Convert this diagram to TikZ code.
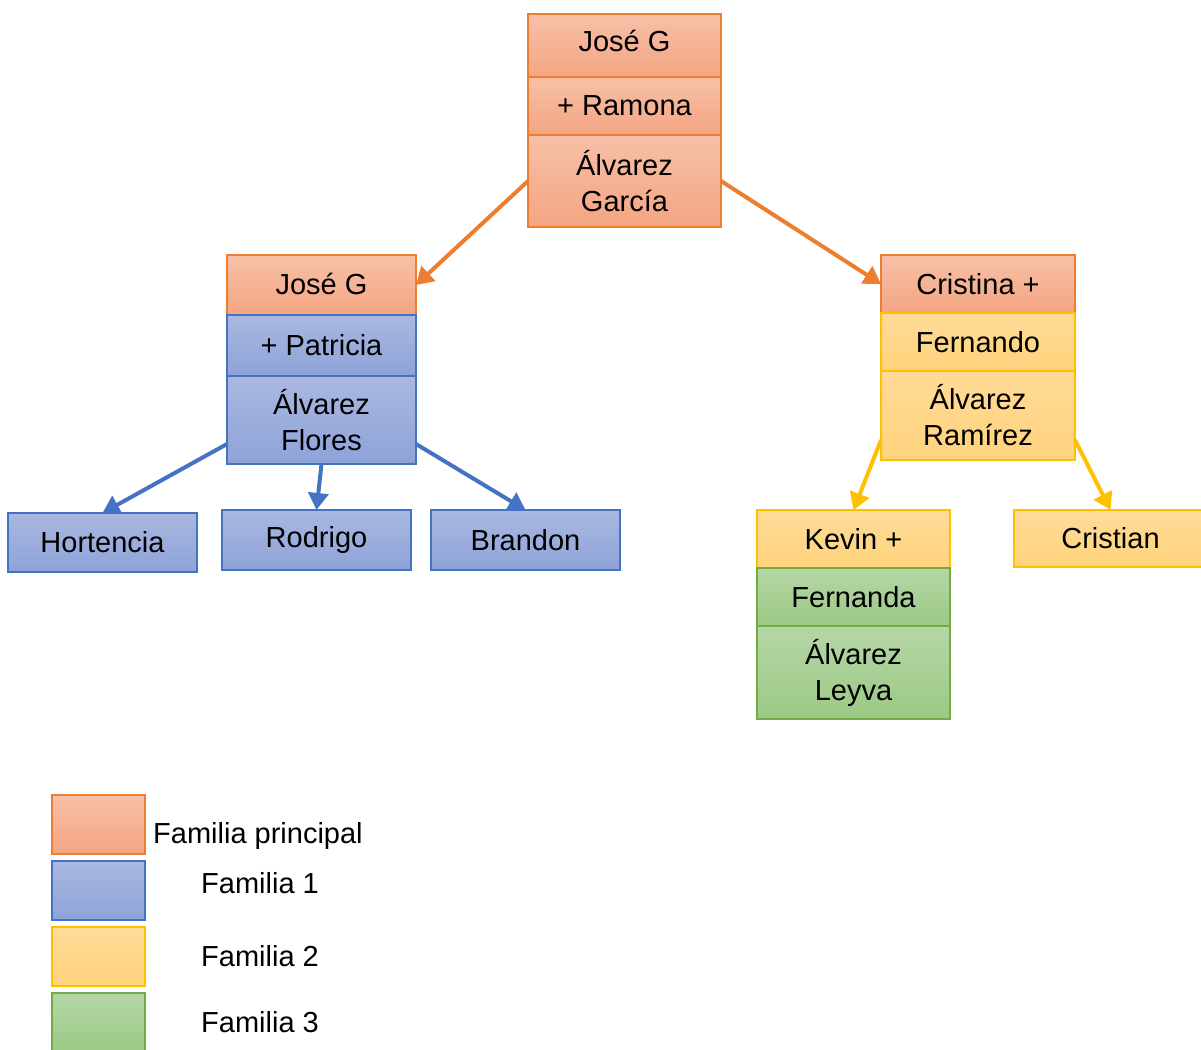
\documentclass[tikz,border=0pt]{standalone}
\usepackage{fontspec}
\setmainfont{Liberation Sans}
\usetikzlibrary{arrows.meta,positioning}
\definecolor{princline}{HTML}{ED7D31}
\definecolor{princtop}{HTML}{F7C0A7}
\definecolor{princbot}{HTML}{F4A582}
\definecolor{unoline}{HTML}{4472C4}
\definecolor{unotop}{HTML}{AAB8E1}
\definecolor{unobot}{HTML}{8DA3D8}
\definecolor{dosline}{HTML}{FFC000}
\definecolor{dostop}{HTML}{FFDB98}
\definecolor{dosbot}{HTML}{FFD37C}
\definecolor{tresline}{HTML}{70AD47}
\definecolor{trestop}{HTML}{B5D6A6}
\definecolor{tresbot}{HTML}{9CC985}

\begin{document}
\begin{tikzpicture}[x=1pt, y=-1pt,
    fam/.style={draw, line width=1.2pt, inner sep=0pt, outer sep=0pt, minimum width=193pt,
        align=center, font=\fontsize{29}{36}\selectfont},
    princ/.style={fam, draw=princline, top color=princtop, bottom color=princbot},
    uno/.style={fam, draw=unoline, top color=unotop, bottom color=unobot},
    dos/.style={fam, draw=dosline, top color=dostop, bottom color=dosbot},
    tres/.style={fam, draw=tresline, top color=trestop, bottom color=tresbot},
    link/.style={line width=4pt, arrows={-Triangle[length=17pt,width=20pt]}},
    legtext/.style={inner sep=0pt, anchor=base west, font=\fontsize{29}{36}\selectfont}]
    \useasboundingbox (0,0) rectangle (1201,1049);
    % familia principal
    \node[princ, anchor=north, minimum height=63pt, text depth=9pt] (tjose) at (624.5,14) {José G};
    \node[princ, below=0pt of tjose, minimum height=58pt] (ramona) {+ Ramona};
    \node[princ, below=0pt of ramona, minimum height=92pt] (garcia) {Álvarez\\García};
    % familia 1
    \node[princ, anchor=north, minimum width=189pt, minimum height=60pt, text depth=3pt] (ljose) at (321.5,255) {José G};
    \node[uno, below=0pt of ljose, minimum width=189pt, minimum height=61pt] (patricia) {+ Patricia};
    \node[uno, below=0pt of patricia, minimum width=189pt, minimum height=88pt] (flores) {Álvarez\\Flores};
    \node[uno, anchor=north, minimum width=189pt, minimum height=59pt] (hortencia) at (102.5,513) {Hortencia};
    \node[uno, anchor=north, minimum width=189pt, minimum height=60pt] (rodrigo) at (316.5,510) {Rodrigo};
    \node[uno, anchor=north, minimum width=189pt, minimum height=60pt] (brandon) at (525.5,510) {Brandon};
    % familia 2
    \node[princ, anchor=north, minimum width=194pt, minimum height=58pt] (cristina) at (978,255) {Cristina +};
    \node[dos, below=0pt of cristina, minimum width=194pt, minimum height=58pt] (fernando) {Fernando};
    \node[dos, below=0pt of fernando, minimum width=194pt, minimum height=89pt] (ramirez) {Álvarez\\Ramírez};
    \node[dos, anchor=north, minimum height=57pt] (cristian) at (1110.5,510) {Cristian};
    % familia 3
    \node[dos, anchor=north, minimum height=58pt] (kevin) at (853.5,510) {Kevin +};
    \node[tres, below=0pt of kevin, minimum height=58pt] (fernanda) {Fernanda};
    \node[tres, below=0pt of fernanda, minimum height=93pt] (leyva) {Álvarez\\Leyva};
    % flechas
    \draw[link, princline] (garcia.west) -- (ljose.east);
    \draw[link, princline] (garcia.east) -- (cristina.west);
    \draw[link, unoline] ([yshift=20pt]flores.south west) -- (hortencia.north);
    \draw[link, unoline] (flores.south) -- (rodrigo.north);
    \draw[link, unoline] ([yshift=20pt]flores.south east) -- (brandon.north);
    \draw[link, dosline] ([yshift=20pt]ramirez.south west) -- (kevin.north);
    \draw[link, dosline] ([yshift=20pt]ramirez.south east) -- (cristian.north);
    % leyenda
    \node[princ, anchor=north west, minimum width=93pt, minimum height=59pt] (legprinc) at (52,795) {};
    \node[uno, anchor=north west, minimum width=93pt, minimum height=59pt] (leguno) at (52,861) {};
    \node[dos, anchor=north west, minimum width=93pt, minimum height=59pt] (legdos) at (52,927) {};
    \node[tres, anchor=north west, minimum width=93pt, minimum height=59pt] (legtres) at (52,993) {};
    \node[legtext] (txtprinc) at (153,843) {Familia principal};
    \node[legtext] (txtuno) at (201,893) {Familia 1};
    \node[legtext] (txtdos) at (201,966) {Familia 2};
    \node[legtext] (txttres) at (201,1032) {Familia 3};
\end{tikzpicture}
\end{document}
